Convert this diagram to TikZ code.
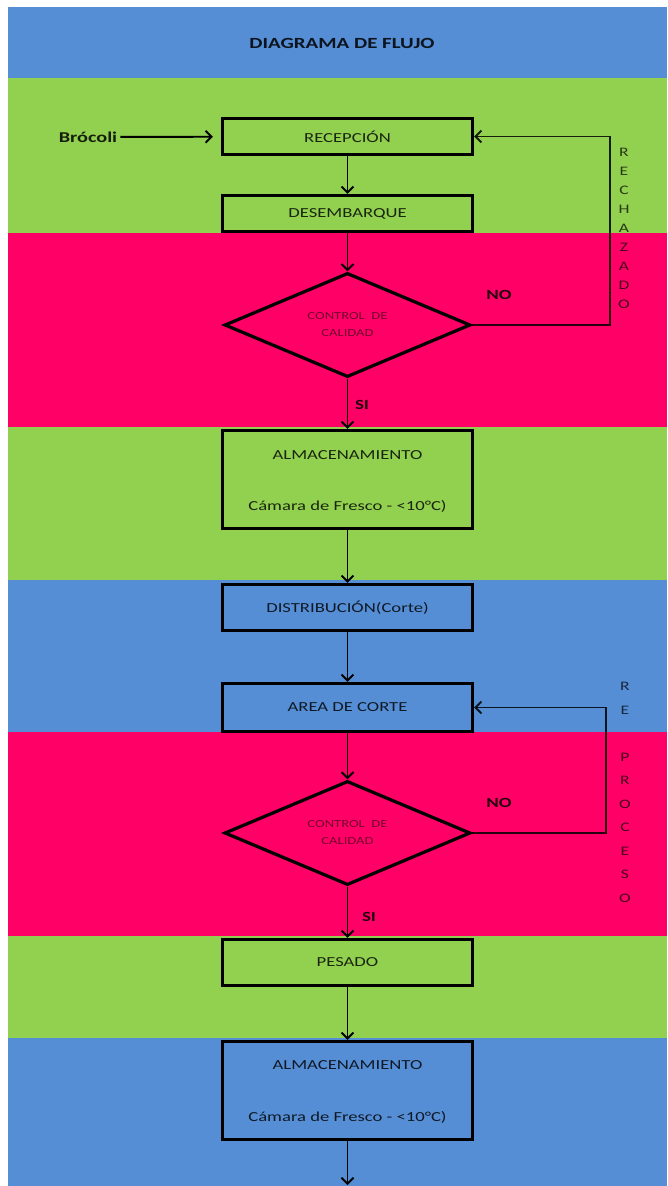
\documentclass[tikz,border=0pt]{standalone}
\usepackage{fontspec}
\setmainfont{Carlito}[FakeStretch=1.35]
\usetikzlibrary{shapes.geometric,arrows.meta}

\definecolor{bandblue}{RGB}{85,142,213}
\definecolor{bandgreen}{RGB}{146,208,80}
\definecolor{bandpink}{RGB}{255,0,102}

\tikzset{
  stepbox/.style={draw=black, line width=3.2pt, minimum width=250pt,
    minimum height=#1, inner sep=0pt, text=black, text opacity=0.82,
    font=\fontsize{13.8}{16}\selectfont},
  boxtext/.style={inner sep=0pt, text=black, text opacity=0.82,
    font=\fontsize{13.8}{16}\selectfont},
  decision/.style={diamond, draw=black, line width=3.2pt, minimum width=246pt,
    minimum height=101pt, inner sep=0pt, align=center, text=black,
    text opacity=0.55, font=\fontsize{10.8}{17}\selectfont},
  flow/.style={line width=1.9pt, -{Straight Barb[length=6pt,width=12pt,line width=1.9pt]}},
  loopline/.style={line width=1.9pt, draw opacity=0.85,
    -{Straight Barb[length=6pt,width=12pt,line width=1.9pt]}},
  answer/.style={inner sep=0pt, text=black, text opacity=0.85,
    font=\bfseries\fontsize{14}{16}\selectfont},
  vertword/.style={inner sep=0pt, align=center, text=black, text opacity=0.72,
    font=\fontsize{13}{#1}\selectfont},
}

\begin{document}
\begin{tikzpicture}[x=1pt,y=-1pt]
  % page and background bands
  \fill[white] (0,0) rectangle (667,1186);
  \useasboundingbox (0,0) rectangle (667,1186);
  \fill[bandblue]  (7.5,7)   rectangle (667,78);
  \fill[bandgreen] (7.5,78)  rectangle (667,233);
  \fill[bandpink]  (7.5,233) rectangle (667,427);
  \fill[bandgreen] (7.5,427) rectangle (667,580);
  \fill[bandblue]  (7.5,580) rectangle (667,732);
  \fill[bandpink]  (7.5,732) rectangle (667,936);
  \fill[bandgreen] (7.5,936) rectangle (667,1038);
  \fill[bandblue]  (7.5,1038) rectangle (667,1186);

  % title
  \node[inner sep=0pt, text=black, text opacity=0.85,
        font=\bfseries\fontsize{15.5}{18}\selectfont] (title) at (342,43) {DIAGRAMA DE FLUJO};

  % process steps
  \node[stepbox=36pt] (rec)  at (347.5,136.5) {RECEPCIÓN};
  \node[stepbox=36pt] (des)  at (347.5,213.5) {DESEMBARQUE};
  \node[decision]     (q1)   at (347.5,325)   {CONTROL\ \ DE\\CALIDAD};
  \node[stepbox=98pt] (alm1) at (347.5,479.5) {};
  \node[boxtext] (alm1a) at (347.5,455) {ALMACENAMIENTO};
  \node[boxtext] (alm1b) at (347.5,506) {Cámara de Fresco - <10°C)};
  \node[stepbox=46pt] (dist) at (347.5,607.5) {DISTRIBUCIÓN(Corte)};
  \node[stepbox=48pt] (area) at (347.5,707.5) {AREA DE CORTE};
  \node[decision]     (q2)   at (347.5,833)   {CONTROL\ \ DE\\CALIDAD};
  \node[stepbox=46pt] (pes)  at (347.5,962.5) {PESADO};
  \node[stepbox=98pt] (alm2) at (347.5,1090.5) {};
  \node[boxtext] (alm2a) at (347.5,1065) {ALMACENAMIENTO};
  \node[boxtext] (alm2b) at (347.5,1117) {Cámara de Fresco - <10°C)};

  % input
  \node[inner sep=3pt, text=black, text opacity=0.85,
        font=\bfseries\fontsize{15}{18}\selectfont] (broc) at (88,137) {Brócoli};
  \draw[flow, shorten >=8pt] (broc) -- (rec);

  % main flow
  \draw[flow] (rec) -- (des);
  \draw[flow] (des) -- (q1);
  \draw[flow] (q1) -- (alm1);
  \draw[flow] (alm1) -- (dist);
  \draw[flow] (dist) -- (area);
  \draw[flow] (area) -- (q2);
  \draw[flow] (q2) -- (pes);
  \draw[flow] (pes) -- (alm2);
  \coordinate (out) at (347.5,1185);
  \draw[flow] (alm2) -- (out);

  % return loops
  \coordinate (r1) at (610,136.5);
  \draw[loopline] (q1.east) -| (r1) -- (rec.east);
  \coordinate (r2) at (606,707.5);
  \draw[loopline] (q2.east) -| (r2) -- (area.east);

  % answer labels
  \node[answer] (no1) at (499,295) {NO};
  \node[answer] (si1) at (362,405) {SI};
  \node[answer] (no2) at (499,803) {NO};
  \node[answer] (si2) at (369,917) {SI};

  % vertical loop captions
  \node[vertword=19pt] (rech) at (624,228) {R\\E\\C\\H\\A\\Z\\A\\D\\O};
  \node[vertword=23.5pt] (repr) at (625,792.5) {R\\E\\~\\P\\R\\O\\C\\E\\S\\O};
\end{tikzpicture}
\end{document}
